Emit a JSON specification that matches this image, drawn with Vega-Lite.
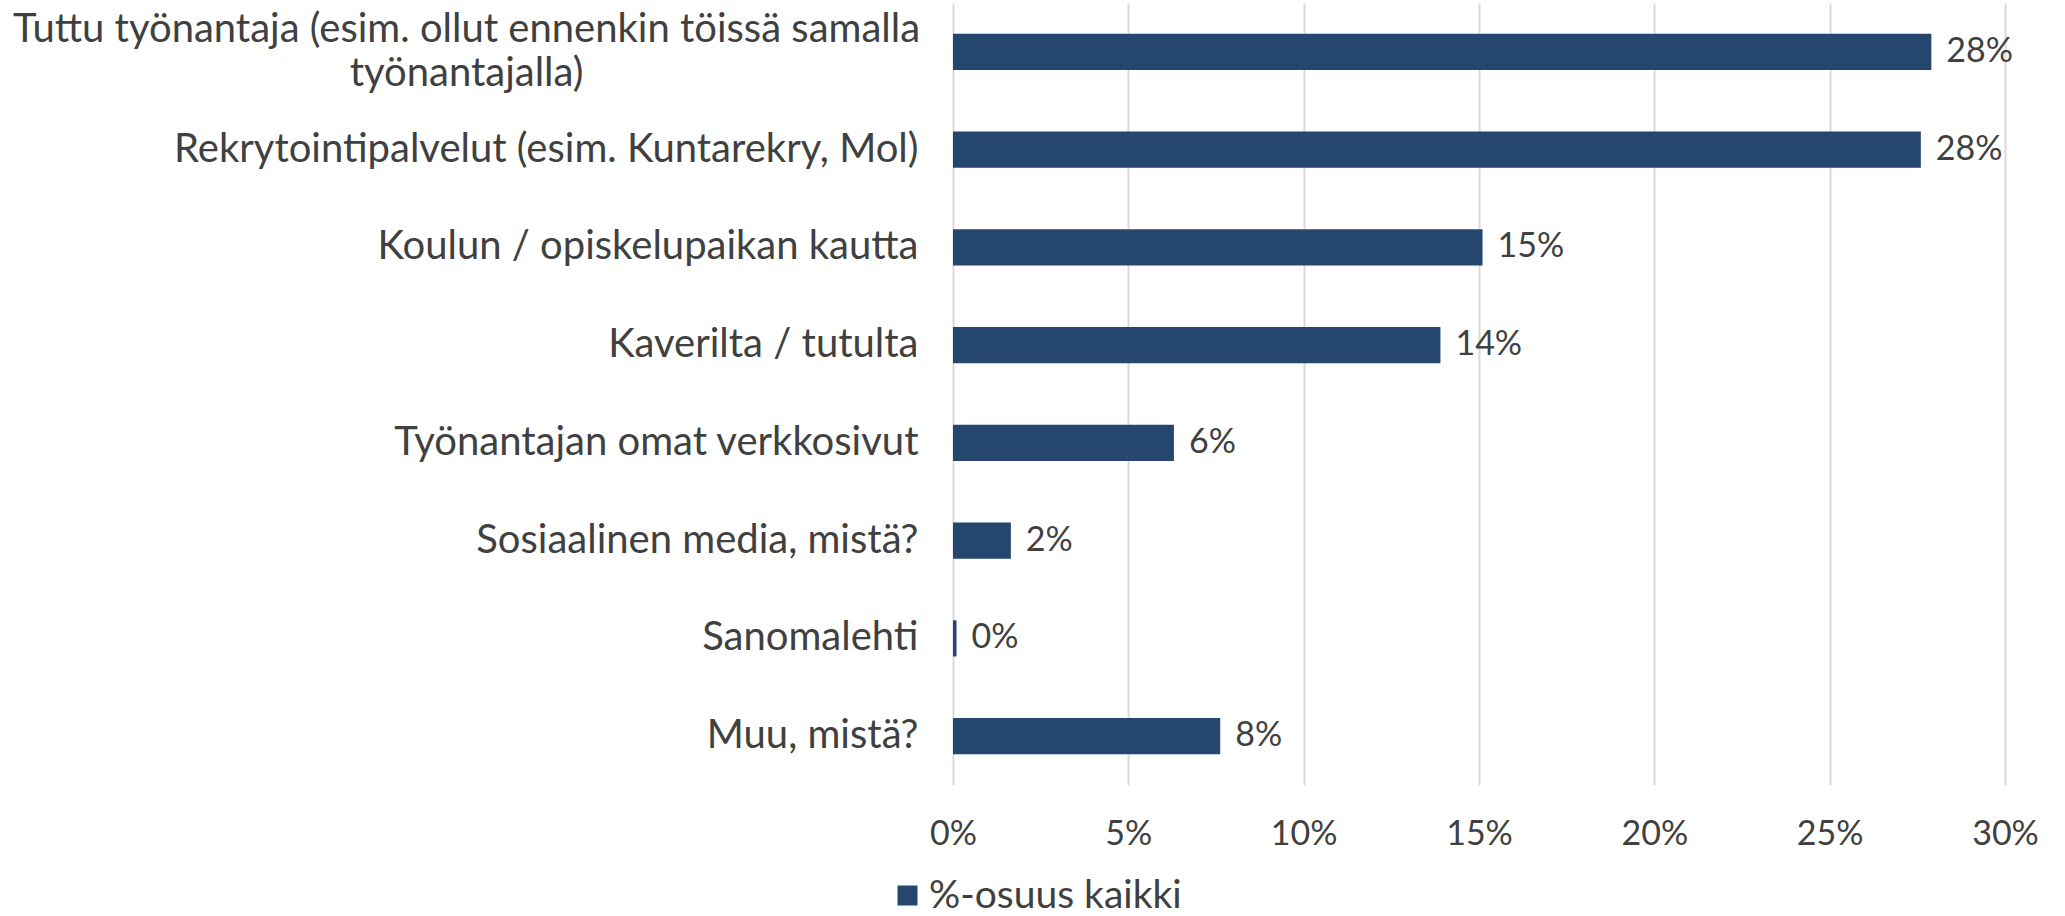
{
  "$schema": "https://vega.github.io/schema/vega-lite/v6.json",
  "autosize": "none",
  "padding": {"left": 953, "top": 3, "right": 60, "bottom": 131},
  "width": 1052,
  "height": 782,
  "background": "white",
  "config": {
    "font": "Lato",
    "view": {"stroke": null}
  },
  "data": {
    "values": [
      {"kanava": "Tuttu työnantaja (esim. ollut ennenkin töissä samalla työnantajalla)", "osuus": 0.279},
      {"kanava": "Rekrytointipalvelut (esim. Kuntarekry, Mol)", "osuus": 0.276},
      {"kanava": "Koulun / opiskelupaikan kautta", "osuus": 0.151},
      {"kanava": "Kaverilta / tutulta", "osuus": 0.139},
      {"kanava": "Työnantajan omat verkkosivut", "osuus": 0.063},
      {"kanava": "Sosiaalinen media, mistä?", "osuus": 0.0165},
      {"kanava": "Sanomalehti", "osuus": 0.001},
      {"kanava": "Muu, mistä?", "osuus": 0.0762}
    ]
  },
  "encoding": {
    "y": {
      "field": "kanava",
      "type": "nominal",
      "sort": null,
      "title": null,
      "scale": {"paddingInner": 0.63, "paddingOuter": 0.315},
      "axis": {
        "domain": false,
        "ticks": false,
        "labelFontSize": 40,
        "labelColor": "#404040",
        "labelLimit": 1200,
        "labelLineHeight": 44,
        "labelExpr": "datum.label == 'Tuttu työnantaja (esim. ollut ennenkin töissä samalla työnantajalla)' ? ['Tuttu työnantaja (esim. ollut ennenkin töissä samalla', 'työnantajalla)'] : datum.label",
        "labelAlign": {"condition": {"test": "indexof(datum.value, 'Tuttu') == 0", "value": "center"}, "value": "right"},
        "labelPadding": {"condition": {"test": "indexof(datum.value, 'Tuttu') == 0", "value": 487}, "value": 35},
        "labelOffset": {"condition": {"test": "indexof(datum.value, 'Tuttu') == 0", "value": -22}, "value": 0}
      }
    },
    "x": {
      "field": "osuus",
      "type": "quantitative",
      "title": null,
      "scale": {"domain": [0, 0.3], "nice": false},
      "axis": {
        "format": ".0%",
        "values": [0, 0.05, 0.1, 0.15, 0.2, 0.25, 0.3],
        "domain": false,
        "ticks": false,
        "grid": true,
        "gridColor": "#d9d9d9",
        "gridWidth": 2,
        "labelFlush": false,
        "labelFontSize": 34,
        "labelColor": "#404040",
        "labelPadding": 32
      }
    }
  },
  "layer": [
    {
      "mark": {"type": "bar"},
      "encoding": {
        "color": {
          "datum": "%-osuus kaikki",
          "scale": {"range": ["#25466e"]},
          "legend": {
            "title": null,
            "orient": "none",
            "legendX": -65,
            "legendY": 873,
            "symbolType": "square",
            "symbolSize": 400,
            "symbolStrokeWidth": 0,
            "labelFontSize": 39,
            "labelLimit": 600,
            "labelColor": "#404040",
            "labelOffset": 2
          }
        }
      }
    },
    {
      "mark": {"type": "text", "align": "left", "dx": 15, "fontSize": 34, "color": "#404040"},
      "encoding": {
        "text": {"field": "osuus", "type": "quantitative", "format": ".0%"}
      }
    }
  ]
}
